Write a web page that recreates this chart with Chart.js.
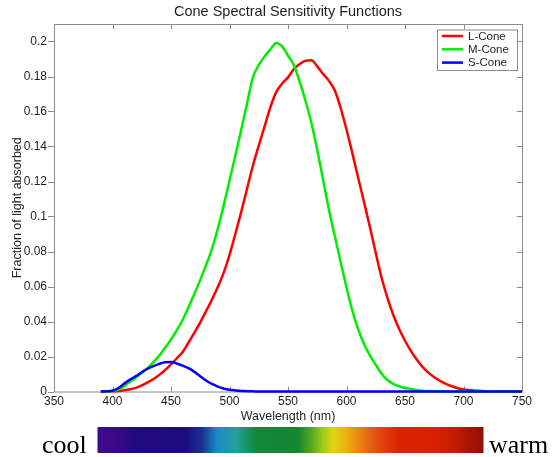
<!DOCTYPE html>
<html>
<head>
<meta charset="utf-8">
<title>Cone Spectral Sensitivity Functions</title>
<script src="https://cdn.jsdelivr.net/npm/chart.js@4.4.1/dist/chart.umd.min.js"></script>
<style>
  html, body { margin: 0; padding: 0; background: #fff; }
  #wrap { width: 558px; height: 457px; position: relative; }
</style>
</head>
<body>
<div id="wrap"><canvas id="coneChart"></canvas></div>
<script>
// wavelength samples (nm) and the three cone curves
const wavelengths = [
  390, 395, 400, 405, 410, 415, 420, 425, 430, 435, 440, 445, 450, 455, 460, 465,
  470, 475, 480, 485, 490, 495, 500, 505, 510, 515, 520, 525, 530, 535, 540, 545,
  550, 555, 560, 565, 570, 575, 580, 585, 590, 595, 600, 605, 610, 615, 620, 625,
  630, 635, 640, 645, 650, 655, 660, 665, 670, 675, 680, 685, 690, 695, 700, 705,
  710, 715, 720, 725, 730, 735, 740, 745, 750
];

const lCone = [
  0, 0, 0.0001, 0.0003, 0.0007, 0.0013, 0.0021, 0.0035, 0.0052, 0.0071, 0.0095, 0.0123, 0.0155, 0.0190, 0.0226, 0.0280,
  0.0336, 0.0395, 0.0459, 0.0525, 0.0597, 0.0678, 0.0780, 0.0900, 0.1025, 0.1158, 0.1290, 0.1405, 0.1515, 0.1625, 0.1712, 0.1760,
  0.1795, 0.1843, 0.1872, 0.1890, 0.1893, 0.1858, 0.1815, 0.1775, 0.1720, 0.1620, 0.1497, 0.1362, 0.1220, 0.1082, 0.0940, 0.0792,
  0.0650, 0.0535, 0.0437, 0.0357, 0.0290, 0.0232, 0.0183, 0.0141, 0.0108, 0.0082, 0.0061, 0.0044, 0.0030, 0.0019, 0.0012, 0.0008,
  0.0005, 0.0003, 0.0001, 0, 0, 0, 0, 0, 0
];

const mCone = [
  0, 0, 0.0003, 0.0012, 0.0030, 0.0055, 0.0080, 0.0107, 0.0135, 0.0168, 0.0205, 0.0250, 0.0298, 0.0350, 0.0410, 0.0482,
  0.0558, 0.0638, 0.0722, 0.0815, 0.0930, 0.1062, 0.1205, 0.1348, 0.1495, 0.1645, 0.1795, 0.1865, 0.1915, 0.1955, 0.1992, 0.1972,
  0.1920, 0.1865, 0.1770, 0.1660, 0.1535, 0.1380, 0.1210, 0.1038, 0.0888, 0.0740, 0.0595, 0.0462, 0.0355, 0.0272, 0.0207, 0.0152,
  0.0102, 0.0066, 0.0044, 0.0030, 0.0021, 0.0014, 0.0009, 0.0005, 0.0003, 0.0002, 0.0001, 0, 0, 0, 0, 0,
  0, 0, 0, 0, 0, 0, 0, 0, 0
];

const sCone = [
  0, 0.0001, 0.0004, 0.0020, 0.0045, 0.0068, 0.0088, 0.0110, 0.0130, 0.0145, 0.0158, 0.0167, 0.0168, 0.0160, 0.0148, 0.0133,
  0.0112, 0.0087, 0.0063, 0.0043, 0.0028, 0.0017, 0.0010, 0.0006, 0.0003, 0.0002, 0.0001, 0, 0, 0, 0, 0,
  0, 0, 0, 0, 0, 0, 0, 0, 0, 0, 0, 0, 0, 0, 0, 0,
  0, 0, 0, 0, 0, 0, 0, 0, 0, 0, 0, 0, 0, 0, 0, 0,
  0, 0, 0, 0, 0, 0, 0, 0, 0
];

const seriesNames = ['L-Cone', 'M-Cone', 'S-Cone'];
const xTicks = [350, 400, 450, 500, 550, 600, 650, 700, 750];
const yTicks = [0, 0.02, 0.04, 0.06, 0.08, 0.1, 0.12, 0.14, 0.16, 0.18, 0.2];
const yTickLabels = ['0', '0.02', '0.04', '0.06', '0.08', '0.1', '0.12', '0.14', '0.16', '0.18', '0.2'];

const sans = '"Liberation Sans", Arial, sans-serif';
const axisGray = '#8c8c8c';
const textColor = '#1e1e1e';

const toPoints = (vals) => wavelengths.map((w, i) => ({ x: w, y: vals[i] }));

// box, ticks, title, legend and the colour strip underneath
const decorations = {
  id: 'decorations',
  beforeDatasetsDraw(chart) {
    const { ctx, chartArea: a, scales: { x, y } } = chart;
    ctx.save();
    ctx.strokeStyle = axisGray;
    ctx.lineWidth = 1;
    ctx.strokeRect(a.left + 0.5, a.top + 0.5, a.right - a.left, a.bottom - a.top);
    ctx.beginPath();
    x.ticks.forEach(t => {
      const px = Math.round(x.getPixelForValue(t.value)) + 0.5;
      ctx.moveTo(px, a.bottom); ctx.lineTo(px, a.bottom - 5);
      ctx.moveTo(px, a.top); ctx.lineTo(px, a.top + 5);
    });
    y.ticks.forEach(t => {
      const py = Math.round(y.getPixelForValue(t.value)) + 0.5;
      ctx.moveTo(a.left - 6, py); ctx.lineTo(a.left, py);
      ctx.moveTo(a.right, py); ctx.lineTo(a.right - 5, py);
    });
    ctx.stroke();
    ctx.restore();
  },
  afterDraw(chart) {
    const { ctx, chartArea: a } = chart;
    ctx.save();

    // title
    ctx.fillStyle = textColor;
    ctx.font = '14.5px ' + sans;
    ctx.textAlign = 'center';
    ctx.textBaseline = 'middle';
    ctx.fillText('Cone Spectral Sensitivity Functions', (a.left + a.right) / 2, 12);

    // legend in the top right corner
    const lx = 437, ly = 29.5, lw = 80, lh = 40.5;
    ctx.fillStyle = '#fff';
    ctx.fillRect(lx, ly, lw, lh);
    ctx.strokeStyle = axisGray;
    ctx.lineWidth = 1;
    ctx.strokeRect(lx + 0.5, ly + 0.5, lw, lh);
    ctx.font = '11.5px ' + sans;
    ctx.textAlign = 'left';
    chart.data.datasets.forEach((ds, i) => {
      const ry = 36 + i * 13.3;
      ctx.strokeStyle = ds.borderColor;
      ctx.lineWidth = 2.5;
      ctx.beginPath();
      ctx.moveTo(442, ry); ctx.lineTo(463, ry);
      ctx.stroke();
      ctx.fillStyle = textColor;
      ctx.fillText(ds.label, 468, ry + 0.5);
    });

    // spectrum strip
    const bx = 97.5, bw = 386, by = 427, bh = 26;
    const g = ctx.createLinearGradient(bx, 0, bx + bw, 0);
    g.addColorStop(0.00, '#3c0c8c');
    g.addColorStop(0.05, '#3a0a88');
    g.addColorStop(0.09, '#22097f');
    g.addColorStop(0.23, '#1c0c82');
    g.addColorStop(0.27, '#1a3090');
    g.addColorStop(0.31, '#1c8cc4');
    g.addColorStop(0.36, '#22a09a');
    g.addColorStop(0.41, '#12883c');
    g.addColorStop(0.52, '#14862e');
    g.addColorStop(0.555, '#58a820');
    g.addColorStop(0.585, '#a0cc1c');
    g.addColorStop(0.61, '#e0d412');
    g.addColorStop(0.645, '#eeb012');
    g.addColorStop(0.69, '#e87414');
    g.addColorStop(0.735, '#e04410');
    g.addColorStop(0.78, '#dc2400');
    g.addColorStop(0.88, '#d82000');
    g.addColorStop(0.935, '#bc1a02');
    g.addColorStop(1.00, '#901008');
    ctx.fillStyle = g;
    ctx.fillRect(bx, by, bw, bh);

    ctx.fillStyle = '#000';
    ctx.font = '26px "Liberation Serif", "Times New Roman", serif';
    ctx.textBaseline = 'alphabetic';
    ctx.textAlign = 'left';
    ctx.fillText('cool', 42, 452.5);
    ctx.fillText('warm', 489, 452.5);
    ctx.restore();
  }
};

const lineStyle = {
  borderWidth: 2.5,
  pointRadius: 0,
  fill: false,
  cubicInterpolationMode: 'monotone',
  clip: 4
};

new Chart(document.getElementById('coneChart'), {
  type: 'line',
  data: {
    datasets: [
      { ...lineStyle, label: seriesNames[0], data: toPoints(lCone), borderColor: '#ff0000', order: 3 },
      { ...lineStyle, label: seriesNames[1], data: toPoints(mCone), borderColor: '#00ee00', order: 2 },
      { ...lineStyle, label: seriesNames[2], data: toPoints(sCone), borderColor: '#0000ff', order: 1 }
    ]
  },
  options: {
    responsive: true,
    maintainAspectRatio: false,
    animation: false,
    layout: { padding: { top: 24, right: 36, left: 0, bottom: 0 } },
    plugins: {
      legend: { display: false },
      title: { display: false },
      tooltip: { enabled: false }
    },
    scales: {
      x: {
        type: 'linear',
        min: 350,
        max: 750,
        grid: { display: false, drawTicks: false },
        border: { display: false },
        afterFit: (scale) => { scale.height = 65.5; },
        afterBuildTicks: (scale) => { scale.ticks = xTicks.map(v => ({ value: v })); },
        ticks: {
          padding: 2.5,
          color: textColor,
          font: { family: sans, size: 12 },
          callback: (v) => String(v)
        },
        title: {
          display: true,
          text: 'Wavelength (nm)',
          color: textColor,
          font: { family: sans, size: 12.5 },
          padding: { top: 0, bottom: 33 }
        }
      },
      y: {
        min: 0,
        max: 0.21,
        grid: { display: false, drawTicks: false },
        border: { display: false },
        afterFit: (scale) => { scale.width = 54; },
        afterBuildTicks: (scale) => { scale.ticks = yTicks.map(v => ({ value: v })); },
        ticks: {
          padding: 7,
          color: textColor,
          font: { family: sans, size: 12 },
          callback: (v, i) => yTickLabels[i]
        },
        title: {
          display: true,
          text: 'Fraction of light absorbed',
          color: textColor,
          font: { family: sans, size: 12.5 },
          padding: { top: 10.5, bottom: 0 }
        }
      }
    }
  },
  plugins: [decorations]
});
</script>
</body>
</html>
